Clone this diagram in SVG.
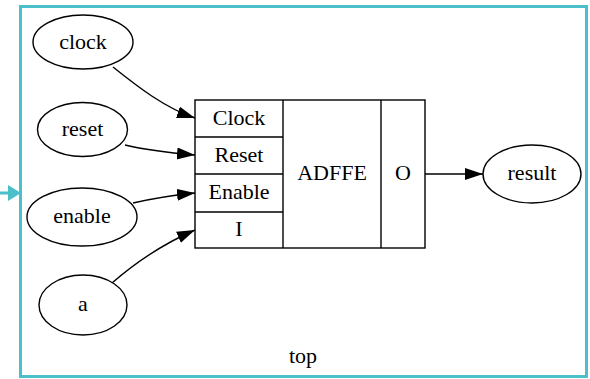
<svg xmlns="http://www.w3.org/2000/svg" width="590" height="379" viewBox="0 0 590 379">
<defs>
<style>
text{font-family:'Liberation Serif','Times New Roman',serif;font-size:22px;fill:#000;text-anchor:middle}
.n{fill:#fff;stroke:#000;stroke-width:1.4}
.e{fill:none;stroke:#000;stroke-width:1.4}
</style>
<marker id="ah" markerUnits="userSpaceOnUse" markerWidth="20" markerHeight="14" refX="18" refY="6" orient="auto">
<polygon points="0,0 18,6 0,12" fill="#000"/>
</marker>
</defs>
<rect width="590" height="379" fill="#fff"/>
<g id="top">
<rect x="20.5" y="6.5" width="566" height="370" fill="none" stroke="#4bbfca" stroke-width="3"/>
<text x="303" y="363">top</text>
</g>
<g id="input-arrow">
<line x1="0" y1="193" x2="12" y2="193" stroke="#4bbfca" stroke-width="3"/>
<polygon points="8,185 21,193 8,201" fill="#4bbfca"/>
</g>
<g id="connectors">
<path class="e" d="M113,67 C138,87 165,108 195,118" marker-end="url(#ah)"/>
<path class="e" d="M125,145 C150,151 172,153 195,155" marker-end="url(#ah)"/>
<path class="e" d="M133,203 C155,198 175,195 195,193" marker-end="url(#ah)"/>
<path class="e" d="M112,283 C135,263 165,243 195,230" marker-end="url(#ah)"/>
<path class="e" d="M425,174 L483,174" marker-end="url(#ah)"/>
</g>
<g id="clock"><ellipse class="n" cx="83" cy="42" rx="50" ry="27"/><text x="83" y="49">clock</text></g>
<g id="reset"><ellipse class="n" cx="82.5" cy="129.5" rx="45" ry="27"/><text x="82.5" y="136">reset</text></g>
<g id="enable"><ellipse class="n" cx="82" cy="217" rx="55" ry="29"/><text x="82" y="223">enable</text></g>
<g id="a"><ellipse class="n" cx="83" cy="305" rx="44" ry="30"/><text x="83" y="311">a</text></g>
<g id="result"><ellipse class="n" cx="532" cy="174" rx="49" ry="29"/><text x="532" y="180">result</text></g>
<g id="ADFFE">
<rect class="n" x="195" y="100" width="230" height="148"/>
<line class="e" x1="283" y1="100" x2="283" y2="248"/>
<line class="e" x1="381" y1="100" x2="381" y2="248"/>
<line class="e" x1="195" y1="137" x2="283" y2="137"/>
<line class="e" x1="195" y1="174" x2="283" y2="174"/>
<line class="e" x1="195" y1="212" x2="283" y2="212"/>
<text x="239" y="125">Clock</text>
<text x="239" y="162">Reset</text>
<text x="239" y="199">Enable</text>
<text x="239" y="236">I</text>
<text x="332" y="180">ADFFE</text>
<text x="403" y="180">O</text>
</g>
</svg>
